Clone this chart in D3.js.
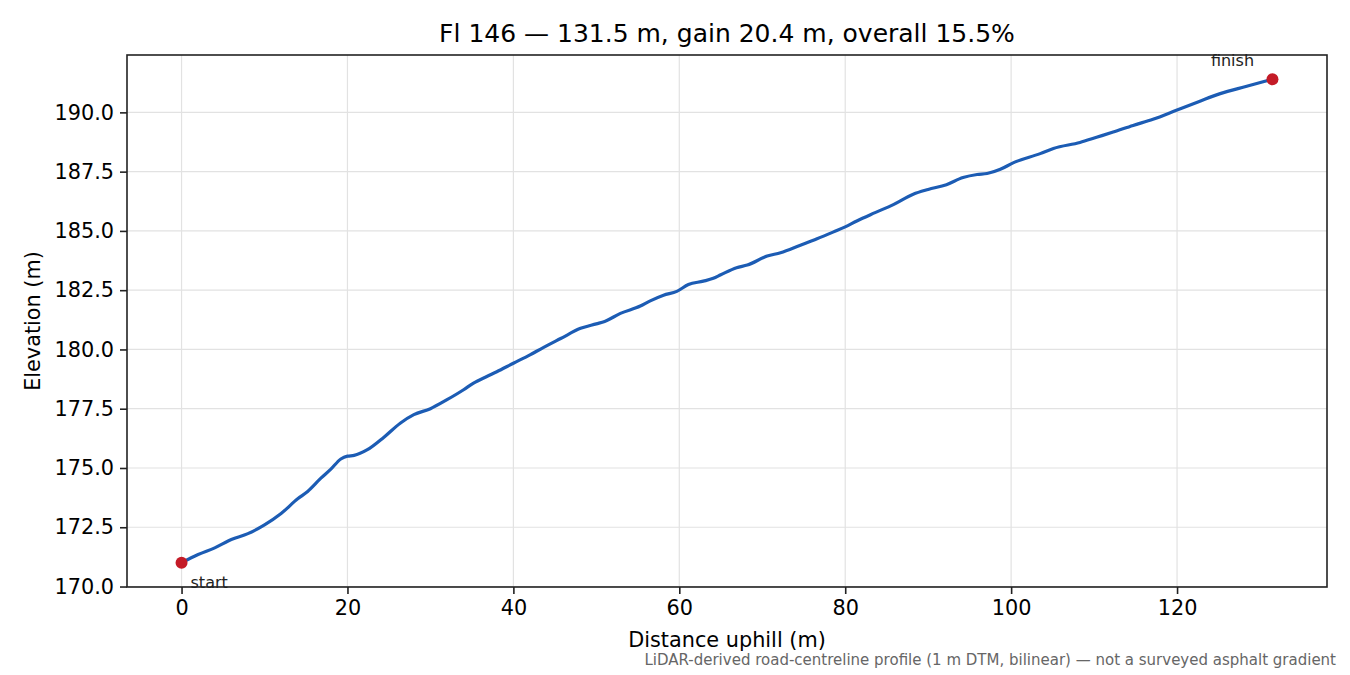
<!DOCTYPE html>
<html>
<head>
<meta charset="utf-8">
<script src="https://cdn.jsdelivr.net/npm/d3@7"></script>
<style>
  body { margin: 0; background: #fff; }
  svg { display: block; font-family: "DejaVu Sans", sans-serif; }
</style>
</head>
<body>
<svg id="chart" width="1350" height="675"></svg>
<script>
// profile
var distance = [0, 2, 4, 6, 8, 10, 12, 14, 15.2, 16.8, 18, 19.2, 20, 20.8, 22.4, 24.4, 26.4, 28, 30, 32,
    34, 35.2, 36.8, 38, 40, 42, 43.6, 45.7, 48.1, 50, 51, 52.9, 55.3, 56.5, 58.1, 59.7, 61.1, 62.9, 64.1, 65,
    66.9, 68.2, 70.6, 72.2, 74.6, 76.6, 78.6, 80, 81.4, 83.6, 85.8, 88.2, 90, 92.2, 94.2, 95.9, 97.1, 98.7, 100.3, 103.5,
    105.1, 108.3, 110.3, 112.3, 114.7, 117.1, 120, 122.6, 125.2, 128.4, 131.5];
var elevation = [171.0, 171.35, 171.63, 171.98, 172.23, 172.6, 173.08, 173.7, 174.01, 174.57, 174.95, 175.38, 175.5, 175.53, 175.77, 176.3, 176.9, 177.25, 177.5, 177.88,
    178.3, 178.58, 178.86, 179.06, 179.42, 179.77, 180.08, 180.46, 180.89, 181.08, 181.18, 181.52, 181.83, 182.05, 182.29, 182.45, 182.74, 182.88, 183.0, 183.15,
    183.45, 183.56, 183.94, 184.08, 184.4, 184.67, 184.96, 185.17, 185.42, 185.77, 186.11, 186.55, 186.75, 186.95, 187.25, 187.38, 187.42, 187.6, 187.88, 188.26,
    188.48, 188.73, 188.95, 189.17, 189.45, 189.71, 190.1, 190.45, 190.79, 191.1, 191.4];
var xTicks = [0, 20, 40, 60, 80, 100, 120];
var yTicks = [170, 172.5, 175, 177.5, 180, 182.5, 185, 187.5, 190];
var endLabels = ['start', 'finish'];

var title = 'Fl 146 \u2014 131.5 m, gain 20.4 m, overall 15.5%',
    note = 'LiDAR-derived road-centreline profile (1 m DTM, bilinear) \u2014 not a surveyed asphalt gradient';

var margin = {left: 127, right: 23, top: 55, bottom: 88},
    width = 1350 - margin.left - margin.right,
    height = 675 - margin.top - margin.bottom,
    lineColor = '#1c5cb4',
    dotColor = '#c41b27';

var svg = d3.select('#chart');
var g = svg.append('g').attr('transform', 'translate(' + margin.left + ',' + margin.top + ')');

var xPad = (131.5 - 0) * 0.05,
    yPad = (191.4 - 171.0) * 0.05;
var x = d3.scaleLinear().domain([0 - xPad, 131.5 + xPad]).range([0, width]);
var y = d3.scaleLinear().domain([171.0 - yPad, 191.4 + yPad]).range([height, 0]);

// grid
g.append('g').selectAll('line').data(xTicks).join('line')
    .attr('x1', function(d) { return x(d); }).attr('x2', function(d) { return x(d); })
    .attr('y1', 0).attr('y2', height)
    .attr('stroke', '#e2e2e2').attr('stroke-width', 1.2);
g.append('g').selectAll('line').data(yTicks).join('line')
    .attr('y1', function(d) { return y(d); }).attr('y2', function(d) { return y(d); })
    .attr('x1', 0).attr('x2', width)
    .attr('stroke', '#e2e2e2').attr('stroke-width', 1.2);

// axes
var xAxis = g.append('g').attr('transform', 'translate(0,' + height + ')')
    .call(d3.axisBottom(x).tickValues(xTicks).tickSize(7).tickPadding(6).tickFormat(d3.format('d')));
var yAxis = g.append('g')
    .call(d3.axisLeft(y).tickValues(yTicks).tickSize(7).tickPadding(6).tickFormat(d3.format('.1f')));
[xAxis, yAxis].forEach(function(a) {
    a.select('.domain').remove();
    a.selectAll('line').attr('stroke', '#222').attr('stroke-width', 1.6);
    a.selectAll('text').attr('font-size', 20.8).attr('fill', '#000')
        .attr('font-family', '"DejaVu Sans", sans-serif');
});

g.append('rect').attr('width', width).attr('height', height)
    .attr('fill', 'none').attr('stroke', '#222').attr('stroke-width', 1.6);

// profile line
var pts = distance.map(function(d, i) { return [d, elevation[i]]; });
g.append('path').datum(pts)
    .attr('fill', 'none').attr('stroke', lineColor).attr('stroke-width', 3.2)
    .attr('stroke-linejoin', 'round')
    .attr('d', d3.line().x(function(d) { return x(d[0]); }).y(function(d) { return y(d[1]); })
        .curve(d3.curveMonotoneX));

var ends = [pts[0], pts[pts.length - 1]];
g.selectAll('circle.end').data(ends).join('circle')
    .attr('class', 'end')
    .attr('cx', function(d) { return x(d[0]); })
    .attr('cy', function(d) { return y(d[1]); })
    .attr('r', 6).attr('fill', dotColor);

g.selectAll('text.end').data(ends).join('text')
    .attr('class', 'end')
    .attr('x', function(d, i) { return x(d[0]) + (i === 0 ? 9 : -40); })
    .attr('y', function(d, i) { return y(d[1]) + (i === 0 ? 25 : -13); })
    .attr('text-anchor', function(d, i) { return i === 0 ? 'start' : 'middle'; })
    .attr('font-size', 16).attr('fill', '#222')
    .text(function(d, i) { return endLabels[i]; });

// labels
svg.append('text').attr('x', margin.left + width / 2).attr('y', 42)
    .attr('text-anchor', 'middle').attr('font-size', 25).text(title);
svg.append('text').attr('x', margin.left + width / 2).attr('y', 647)
    .attr('text-anchor', 'middle').attr('font-size', 20.8).text('Distance uphill (m)');
svg.append('text').attr('transform', 'translate(40,' + (margin.top + height / 2) + ') rotate(-90)')
    .attr('text-anchor', 'middle').attr('font-size', 20.8).text('Elevation (m)');
svg.append('text').attr('x', 1336).attr('y', 665)
    .attr('text-anchor', 'end').attr('font-size', 15).attr('fill', '#666').text(note);
</script>
</body>
</html>
